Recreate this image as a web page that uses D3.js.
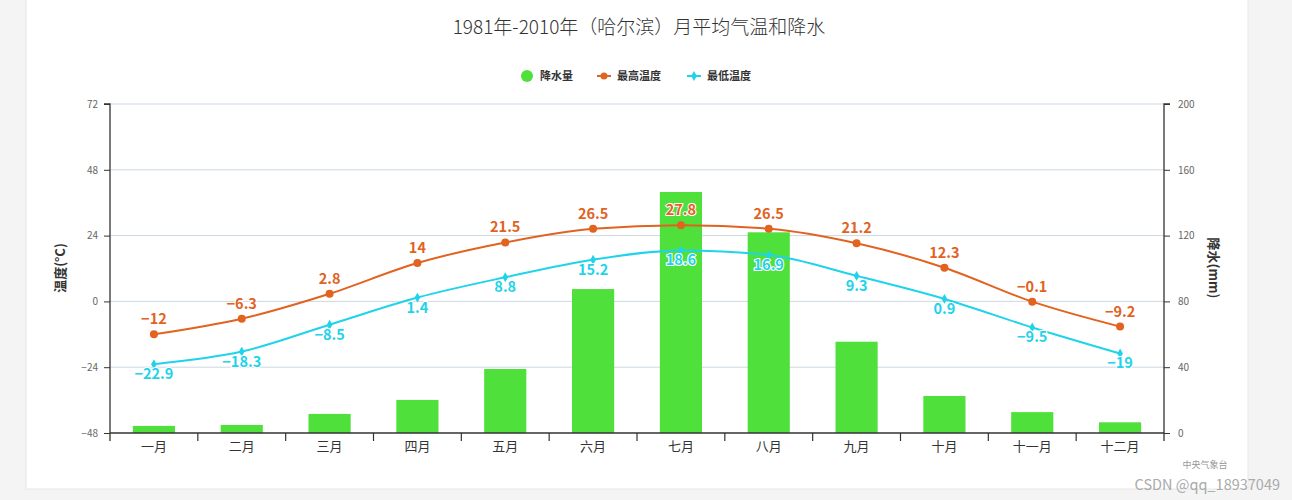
<!DOCTYPE html>
<html>
<head>
<meta charset="utf-8">
<script src="https://cdn.jsdelivr.net/npm/d3@7"></script>
<style>
  body { margin: 0; background: #f4f4f4; }
  svg { display: block; }
  text { font-family: "Noto Sans CJK SC", "Open Sans", sans-serif; }
</style>
</head>
<body>
<div id="chart"></div>
<script>
// Data
const months = ['一月', '二月', '三月', '四月', '五月', '六月', '七月', '八月', '九月', '十月', '十一月', '十二月'];
const precip = [4.3, 4.9, 11.6, 20.1, 38.9, 87.5, 146.5, 122, 55.5, 22.5, 12.7, 6.5];
const maxTemp = [-12, -6.3, 2.8, 14, 21.5, 26.5, 27.8, 26.5, 21.2, 12.3, -0.1, -9.2];
const minTemp = [-22.9, -18.3, -8.5, 1.4, 8.8, 15.2, 18.6, 16.9, 9.3, 0.9, -9.5, -19];
const tempTicks = [-48, -24, 0, 24, 48, 72];
const precipTicks = [0, 40, 80, 120, 160, 200];

const W = 1292, H = 500;
const plot = { left: 110, right: 1164, top: 104, bottom: 433 };

const colors = {
    bar: '#50e03c',
    max: '#e2621f',
    min: '#1fd3ea'
};

const svg = d3.select('#chart').append('svg')
    .attr('width', W).attr('height', H);

// card
svg.append('rect').attr('x', 26).attr('y', -2).attr('width', 1222).attr('height', 491)
    .attr('fill', '#fff').attr('stroke', '#e6e6e6');

const x = d3.scaleBand().domain(months).range([plot.left, plot.right]);
const yT = d3.scaleLinear().domain([-48, 72]).range([plot.bottom, plot.top]);
const yP = d3.scaleLinear().domain([0, 200]).range([plot.bottom, plot.top]);
const cx = i => x(months[i]) + x.bandwidth() / 2;

// grid
svg.append('g').selectAll('line').data(tempTicks.slice(1)).enter().append('line')
    .attr('x1', plot.left).attr('x2', plot.right)
    .attr('y1', d => yT(d)).attr('y2', d => yT(d))
    .attr('stroke', '#cdd8e2').attr('stroke-width', 1);

// bars
const bw = x.bandwidth() * 0.48;
svg.append('g').selectAll('rect').data(precip).enter().append('rect')
    .attr('x', (d, i) => x(months[i]) + (x.bandwidth() - bw) / 2)
    .attr('y', d => yP(d))
    .attr('width', bw)
    .attr('height', d => yP(0) - yP(d))
    .attr('fill', colors.bar);

// axes
const axL = svg.append('g').attr('transform', `translate(${plot.left},0)`)
    .call(d3.axisLeft(yT).tickValues(tempTicks).tickSize(6).tickPadding(6));
const axR = svg.append('g').attr('transform', `translate(${plot.right},0)`)
    .call(d3.axisRight(yP).tickValues(precipTicks).tickSize(6).tickPadding(8));
[axL, axR].forEach(a => {
    a.select('.domain').attr('stroke', '#333').attr('stroke-width', 1.3);
    a.selectAll('.tick line').attr('stroke', '#333');
    a.selectAll('text').attr('fill', '#666').attr('font-size', 10)
        .attr('font-family', '"Open Sans", sans-serif');
});
axL.select('.domain').attr('d', `M-6,${plot.top}H0V${plot.bottom + 8}`);
axR.select('.domain').attr('d', `M6,${plot.top}H0V${plot.bottom + 8}`);

const axB = svg.append('g').attr('transform', `translate(0,${plot.bottom})`)
    .call(d3.axisBottom(x).tickSize(0).tickPadding(9));
axB.select('.domain').attr('stroke', '#333').attr('stroke-width', 1.3).attr('d', `M${plot.left},0H${plot.right}`);
axB.selectAll('text').attr('fill', '#333').attr('font-size', 13);
// boundary ticks
svg.append('g').selectAll('line').data(months.slice(1)).enter().append('line')
    .attr('x1', d => x(d)).attr('x2', d => x(d))
    .attr('y1', plot.bottom).attr('y2', plot.bottom + 8)
    .attr('stroke', '#333').attr('stroke-width', 1.2);

// axis titles
svg.append('text').attr('transform', 'translate(65,268) rotate(-90)')
    .attr('text-anchor', 'middle').attr('font-size', 13).attr('font-weight', 'bold')
    .attr('fill', '#333').text('温度(°C)');
svg.append('text').attr('transform', 'translate(1209,268) rotate(90)')
    .attr('text-anchor', 'middle').attr('font-size', 13).attr('font-weight', 'bold')
    .attr('fill', '#333').text('降水(mm)');

// lines
const line = d3.line()
    .x((d, i) => cx(i))
    .y(d => yT(d))
    .curve(d3.curveMonotoneX);

svg.append('path').datum(maxTemp).attr('d', line)
    .attr('fill', 'none').attr('stroke', colors.max).attr('stroke-width', 2);
svg.append('path').datum(minTemp).attr('d', line)
    .attr('fill', 'none').attr('stroke', colors.min).attr('stroke-width', 2);

svg.append('g').selectAll('circle').data(maxTemp).enter().append('circle')
    .attr('cx', (d, i) => cx(i))
    .attr('cy', d => yT(d))
    .attr('r', 4).attr('fill', colors.max);
svg.append('g').selectAll('path').data(minTemp).enter().append('path')
    .attr('d', d3.symbol(d3.symbolDiamond, 28))
    .attr('transform', (d, i) => `translate(${cx(i)},${yT(d)})`)
    .attr('fill', colors.min);

// data labels
function labels(data, color, dy) {
    svg.append('g').selectAll('text').data(data).enter().append('text')
        .attr('x', (d, i) => cx(i))
        .attr('y', d => yT(d) + dy)
        .attr('text-anchor', 'middle')
        .attr('font-family', '"Open Sans", sans-serif')
        .attr('font-size', 14.5).attr('font-weight', 'bold')
        .attr('fill', color)
        .attr('stroke', '#fff').attr('stroke-width', 2).attr('paint-order', 'stroke')
        .text(d => String(d).replace('-', '−'));
}
labels(maxTemp, colors.max, -10);
labels(minTemp, colors.min, 15);

// title
svg.append('text').attr('x', 639).attr('y', 34).attr('text-anchor', 'middle')
    .attr('font-size', 19).attr('font-weight', 300).attr('fill', '#333')
    .text('1981年-2010年（哈尔滨）月平均气温和降水');

// legend
const legend = svg.append('g').attr('transform', 'translate(0,76)');
legend.append('circle').attr('cx', 527).attr('cy', 0).attr('r', 6).attr('fill', colors.bar);
legend.append('text').attr('x', 540).attr('y', 4).attr('font-size', 11).attr('font-weight', 'bold')
    .attr('fill', '#333').text('降水量');
[[597, colors.max, '最高温度'], [687, colors.min, '最低温度']].forEach(([lx, c, t], k) => {
    legend.append('line').attr('x1', lx).attr('x2', lx + 14).attr('y1', 0).attr('y2', 0)
        .attr('stroke', c).attr('stroke-width', 2);
    if (k === 0) {
        legend.append('circle').attr('cx', lx + 7).attr('cy', 0).attr('r', 3.5).attr('fill', c);
    } else {
        legend.append('path').attr('d', d3.symbol(d3.symbolDiamond, 28))
            .attr('transform', `translate(${lx + 7},0)`).attr('fill', c);
    }
    legend.append('text').attr('x', lx + 20).attr('y', 4).attr('font-size', 11).attr('font-weight', 'bold')
        .attr('fill', '#333').text(t);
});

// credits
svg.append('text').attr('x', 1205).attr('y', 468).attr('text-anchor', 'middle')
    .attr('font-size', 9).attr('fill', '#999').text('中央气象台');
svg.append('text').attr('x', 1280).attr('y', 490).attr('text-anchor', 'end')
    .attr('font-family', '"Open Sans", sans-serif')
    .attr('font-size', 14.5).attr('fill', '#aaa').text('CSDN @qq_18937049');
</script>
</body>
</html>
